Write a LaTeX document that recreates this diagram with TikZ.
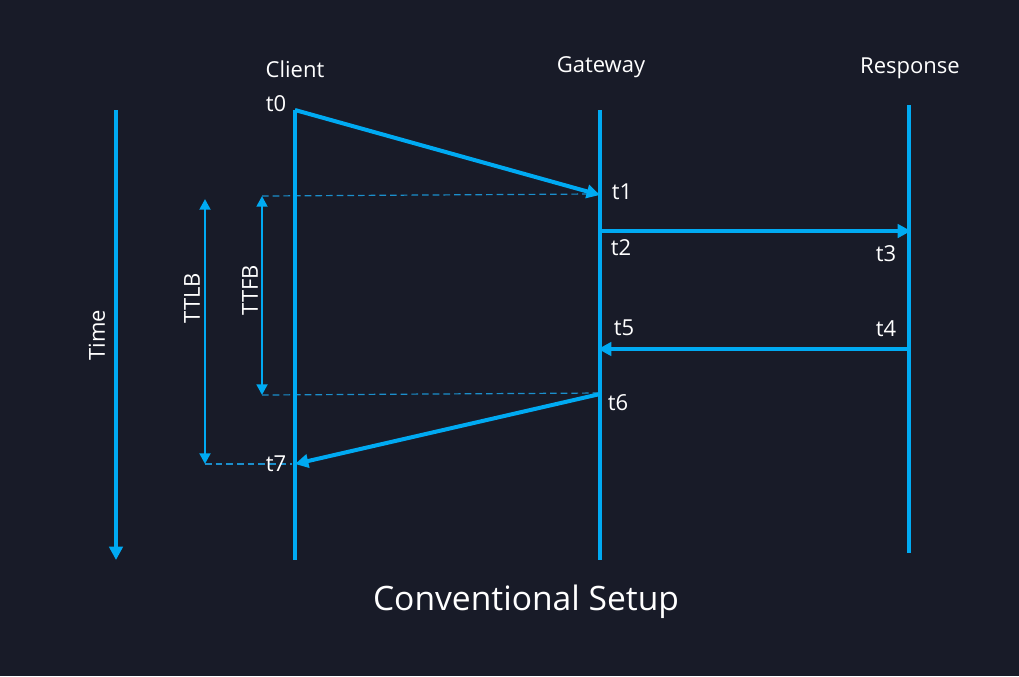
\documentclass[tikz,border=0pt]{standalone}
\usepackage{fontspec}
\setmainfont{Open Sans}
\usetikzlibrary{arrows.meta}
\definecolor{bg}{HTML}{181B28}
\definecolor{lineblue}{HTML}{00AAF2}
\definecolor{dashblue}{HTML}{1B8FCC}
\tikzset{
  lifeline/.style={draw=lineblue, line width=3pt},
  msg/.style={draw=lineblue, line width=3pt, -{Triangle[length=10pt,width=10pt]}},
  span/.style={draw=lineblue, line width=2.2pt, {Triangle[length=8pt,width=8pt]}-{Triangle[length=8pt,width=8pt]}},
  guide/.style={draw=dashblue, line width=0.9pt, dash pattern=on 5pt off 3pt},
  lbl/.style={text=white, font=\fontsize{16.5}{18}\selectfont, inner sep=0pt},
  ttl/.style={text=white, font=\fontsize{25.2}{30}\selectfont, inner sep=0pt}
}
\begin{document}
\begin{tikzpicture}[x=0.75pt,y=-0.75pt]
\fill[bg] (0,0) rectangle (1019,676);
\useasboundingbox (0,0) rectangle (1019,676);
% coordinates
\coordinate (timeT) at (116,110);
\coordinate (timeB) at (116,560);
\coordinate (cT) at (295,110);
\coordinate (cB) at (295,560);
\coordinate (gT) at (600,110);
\coordinate (gB) at (600,560);
\coordinate (rT) at (909,105);
\coordinate (rB) at (909,553);
\coordinate (p0) at (295,110);
\coordinate (p1) at (600,195);
\coordinate (p2) at (600,231);
\coordinate (p3) at (911,231);
\coordinate (p4) at (909,349);
\coordinate (p5) at (598,349);
\coordinate (p6) at (600,394);
\coordinate (p7) at (295,464);
\coordinate (d1a) at (262,196);
\coordinate (d1b) at (592,194);
\coordinate (d2a) at (262,395);
\coordinate (d2b) at (600,393);
\coordinate (d3a) at (205,464);
\coordinate (d3b) at (292,464);
\coordinate (ttfbT) at (262,196);
\coordinate (ttfbB) at (262,395);
\coordinate (ttlbT) at (205,199);
\coordinate (ttlbB) at (205,464);
% dashed guides
\draw[guide] (d1a) -- (d1b);
\draw[guide] (d2a) -- (d2b);
\draw[guide] (d3a) -- (d3b);
% lifelines
\draw[lineblue, line width=3pt, -{Triangle[length=10pt,width=10pt]}] (timeT) -- (timeB);
\draw[lifeline] (cT) -- (cB);
\draw[lifeline] (gT) -- (gB);
\draw[lifeline] (rT) -- (rB);
% messages
\draw[msg] (p0) -- (p1);
\draw[msg] (p2) -- (p3);
\draw[msg] (p4) -- (p5);
\draw[msg] (p6) -- (p7);
% spans
\draw[span] (ttfbT) -- (ttfbB);
\draw[span] (ttlbT) -- (ttlbB);
% labels
\node[lbl] (client) at (295,69) {Client};
\node[lbl] (gateway) at (601,67) {Gateway};
\node[lbl] (response) at (910,68) {Response};
\node[lbl] (t0) at (276,104) {t0};
\node[lbl] (t1) at (622,192) {t1};
\node[lbl] (t2) at (621,248) {t2};
\node[lbl] (t3) at (886,254) {t3};
\node[lbl] (t4) at (886,329) {t4};
\node[lbl] (t5) at (624,328) {t5};
\node[lbl] (t6) at (618,403) {t6};
\node[lbl] (t7) at (276,464) {t7};
\node[lbl, rotate=90] (time) at (97,335) {Time};
\node[lbl, rotate=90] (ttlb) at (192,298) {TTLB};
\node[lbl, rotate=90] (ttfb) at (250,290) {TTFB};
\node[ttl] (title) at (526,602) {Conventional Setup};
\end{tikzpicture}
\end{document}
